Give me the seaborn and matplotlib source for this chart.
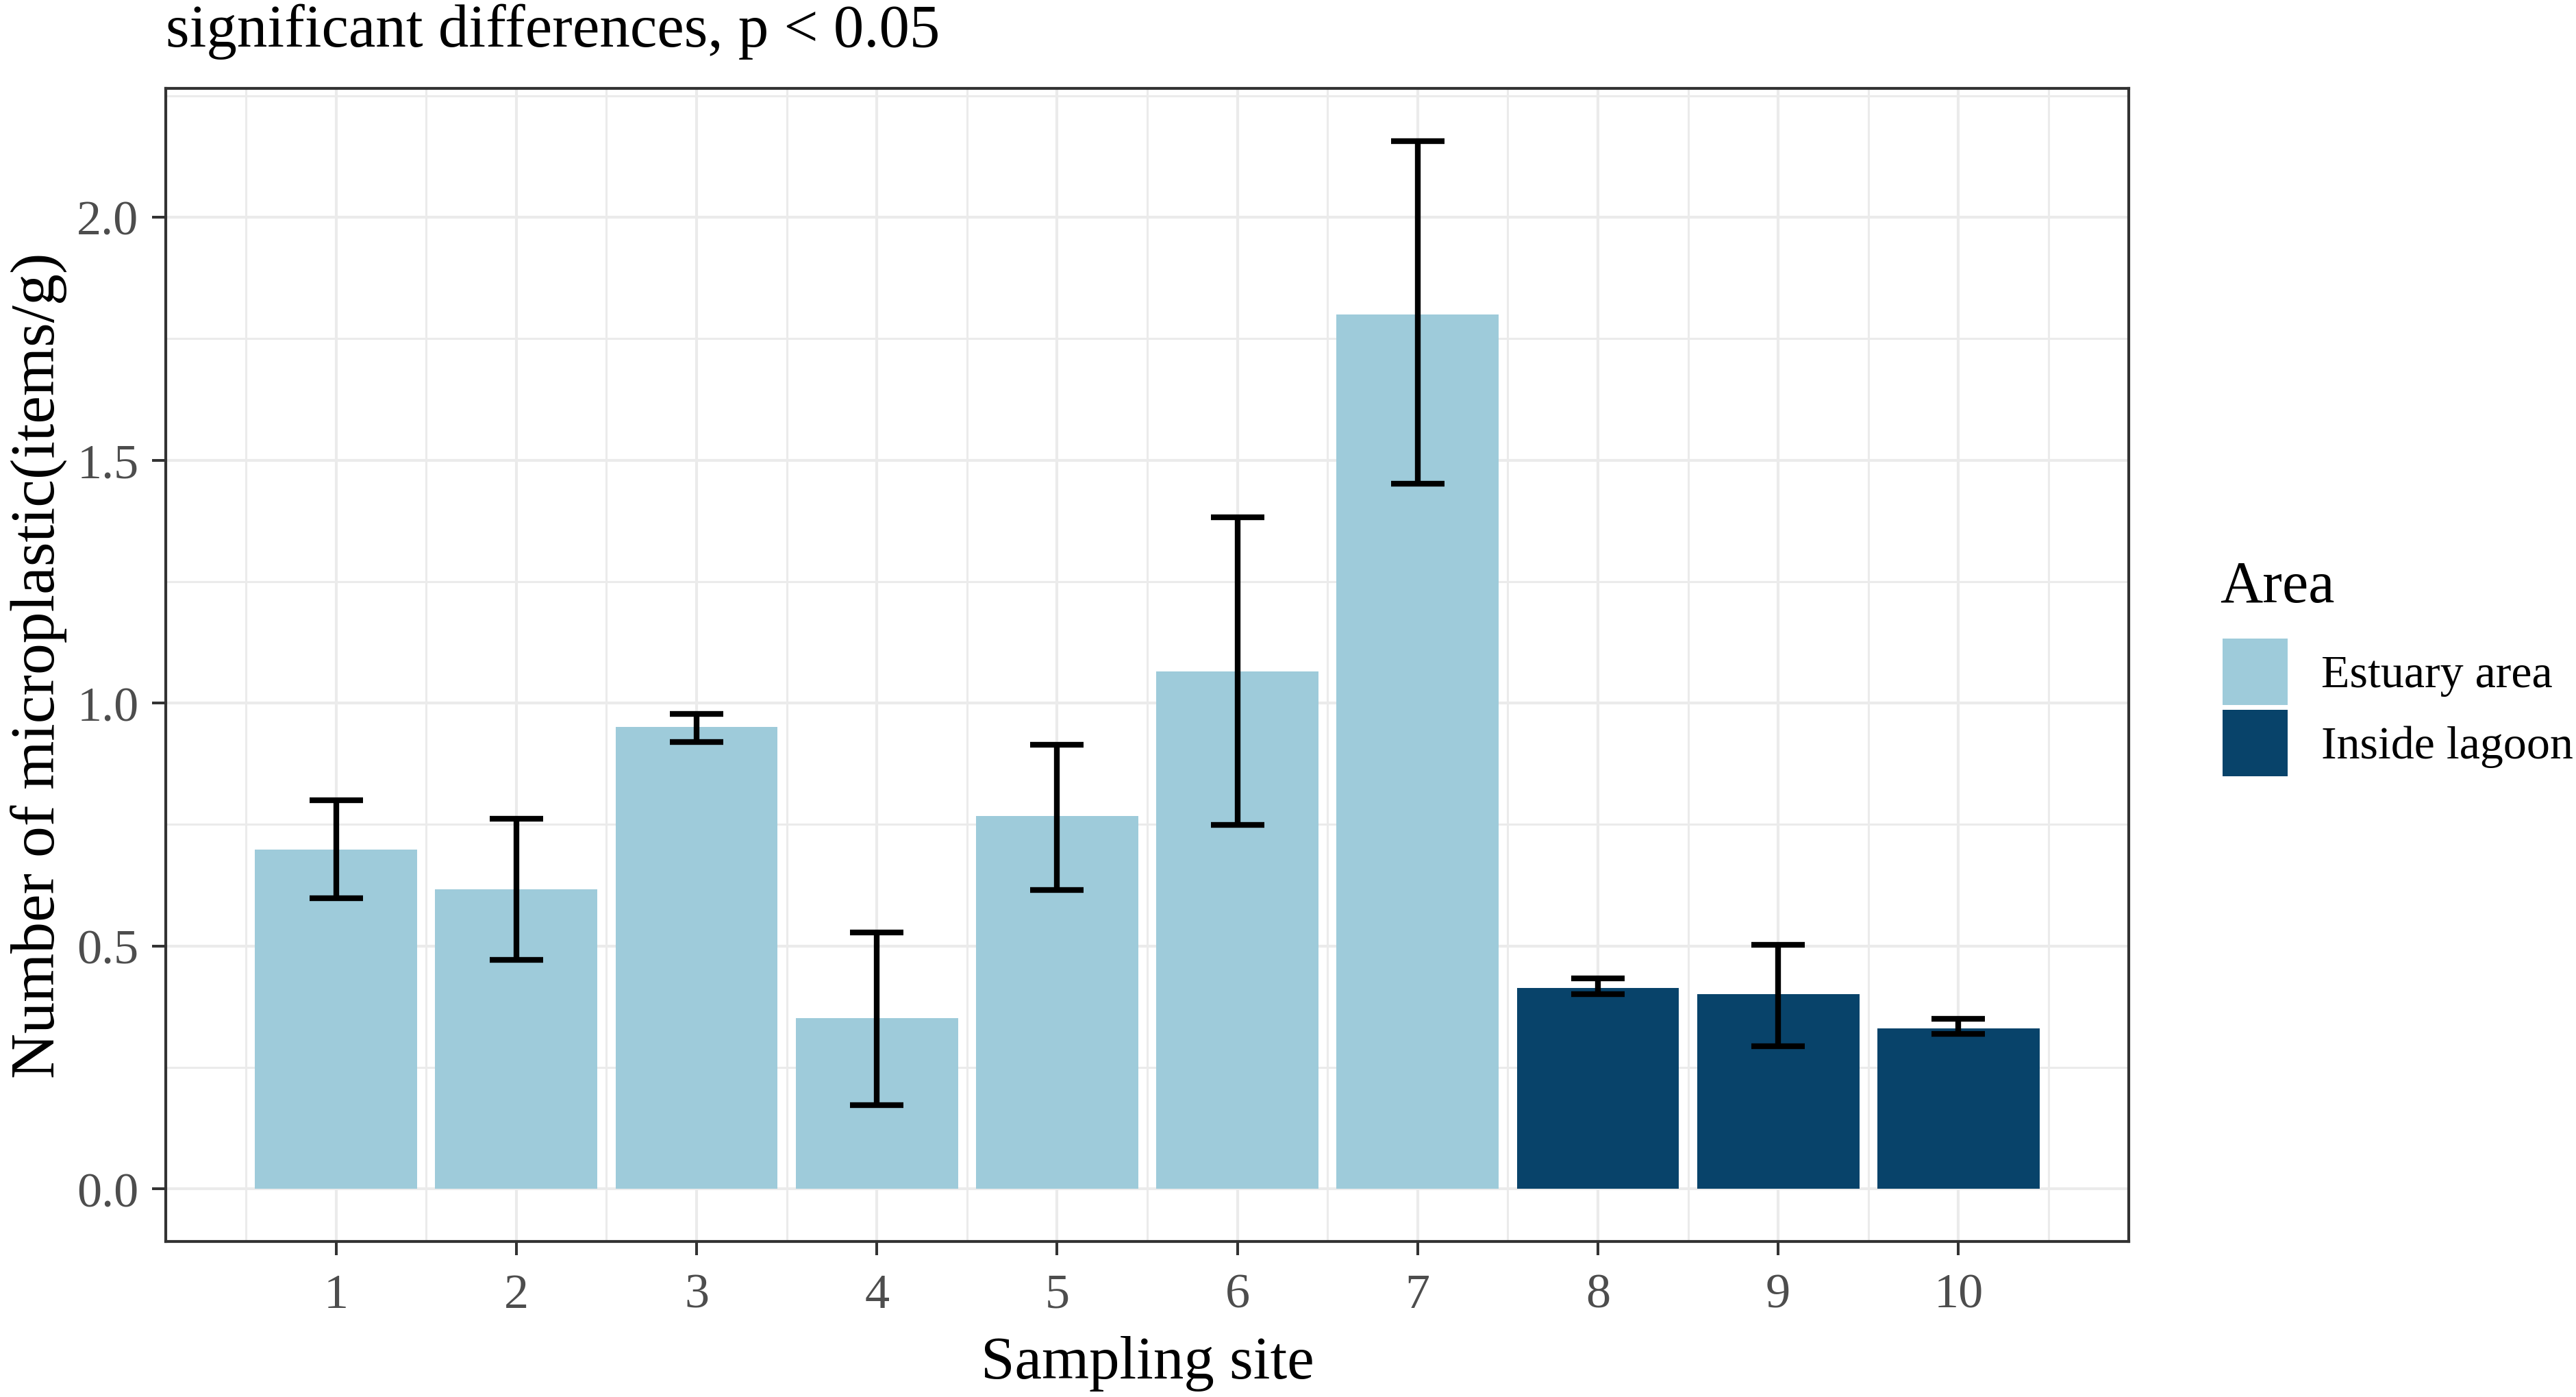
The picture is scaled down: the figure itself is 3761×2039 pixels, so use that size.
import numpy as np
import pandas as pd
import matplotlib
matplotlib.use("Agg")
import matplotlib.pyplot as plt
import seaborn as sns
from matplotlib.patches import Patch
from matplotlib.ticker import FixedLocator

# ---------------- data ----------------
sites = [1, 2, 3, 4, 5, 6, 7, 8, 9, 10]
areas = ["Estuary area"] * 7 + ["Inside lagoon"] * 3
means = [0.698, 0.617, 0.951, 0.351, 0.767, 1.065, 1.800, 0.413, 0.401, 0.331]
err_low = [0.598, 0.471, 0.920, 0.173, 0.615, 0.749, 1.451, 0.401, 0.294, 0.319]
err_high = [0.800, 0.762, 0.977, 0.528, 0.914, 1.382, 2.157, 0.433, 0.502, 0.350]
area_order = ["Estuary area", "Inside lagoon"]
area_colors = ["#9ECBDA", "#08436A"]
title_text = "significant differences, p < 0.05"
x_label = "Sampling site"
y_label = "Number of microplastic(items/g)"
legend_title = "Area"
x_ticks = sites
y_ticks = [0.0, 0.5, 1.0, 1.5, 2.0]

df = pd.DataFrame({"site": sites, "mean": means, "area": areas,
                   "low": err_low, "high": err_high})

# ---------------- style ----------------
plt.rcParams["font.family"] = ["Liberation Serif", "DejaVu Serif"]

W, H, DPI = 3762, 2040, 200
fig = plt.figure(figsize=(W / DPI, H / DPI), dpi=DPI)
ax = fig.add_axes([242 / W, 1 - 1813 / H, (3108 - 242) / W, (1813 - 130) / H])

sns.barplot(data=df, x="site", y="mean", hue="area", hue_order=area_order,
            palette=area_colors, native_scale=True, dodge=False, width=0.9,
            errorbar=None, saturation=1, linewidth=0, legend=False, ax=ax,
            zorder=2)

# error bars (read as low/high limits)
m = df["mean"].to_numpy()
yerr = np.vstack([m - df["low"].to_numpy(), df["high"].to_numpy() - m])
cap_pts = 0.3 * ((3108 - 242) / 10.89) * 72 / DPI
ax.errorbar(df["site"], m, yerr=yerr, fmt="none", ecolor="black",
            elinewidth=3.0, capsize=cap_pts / 2, capthick=3.0, zorder=3)

# axes / ggplot theme_bw look
ax.set_xlim(0.055, 10.945)
ax.set_ylim(-0.108, 2.265)
ax.xaxis.set_major_locator(FixedLocator(x_ticks))
ax.xaxis.set_minor_locator(FixedLocator([s - 0.5 for s in x_ticks] + [x_ticks[-1] + 0.5]))
ax.yaxis.set_major_locator(FixedLocator(y_ticks))
ax.yaxis.set_minor_locator(FixedLocator([t + 0.25 for t in y_ticks]))
ax.set_xticklabels([str(s) for s in x_ticks])
ax.set_yticklabels([f"{t:.1f}" for t in y_ticks])

ax.set_axisbelow(True)
ax.grid(which="major", color="#EBEBEB", linewidth=1.5)
ax.grid(which="minor", color="#EBEBEB", linewidth=1.1)
ax.set_facecolor("white")
for sp in ax.spines.values():
    sp.set_color("#333333")
    sp.set_linewidth(1.5)
    sp.set_zorder(5)

ax.tick_params(which="major", length=7.2, width=1.45, color="#333333",
               labelsize=26, labelcolor="#4D4D4D")
ax.tick_params(axis="x", which="major", pad=9.2)
ax.tick_params(axis="y", which="major", pad=7)
ax.tick_params(which="minor", length=0)

ax.set_xlabel(x_label, fontsize=32, color="black", labelpad=9.5)
ax.set_ylabel(y_label, fontsize=33, color="black", labelpad=5)

fig.text(242 / W, 1 - 68 / H, title_text, fontsize=32, ha="left",
         va="baseline", color="black")

# legend: title and keys
fig.text(3241 / W, 1 - 879 / H, legend_title, fontsize=31, ha="left",
         va="baseline", color="black")
handles = [Patch(facecolor=c, edgecolor="none", label=a)
           for a, c in zip(area_order, area_colors)]
leg = fig.legend(handles=handles, loc="upper left",
                 bbox_to_anchor=(3245 / W, 1 - 933 / H), frameon=False,
                 fontsize=24.5, handlelength=1.40,
                 handleheight=1.817, labelspacing=0.1, handletextpad=0.72,
                 borderpad=0, borderaxespad=0, alignment="left")

fig.savefig("out.png", dpi=DPI, facecolor="white")
